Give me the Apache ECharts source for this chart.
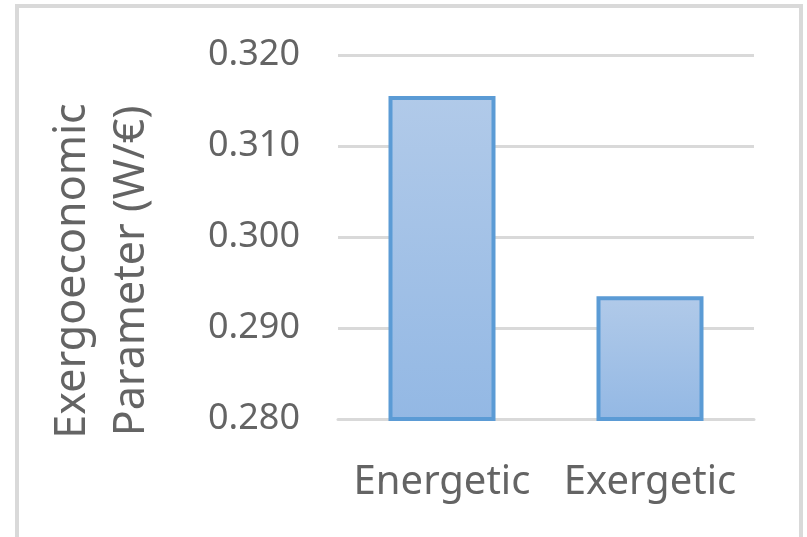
<!DOCTYPE html>
<html>
<head>
<meta charset="utf-8">
<script src="https://cdn.jsdelivr.net/npm/echarts@6/dist/echarts.min.js"></script>
<style>
  html, body { margin: 0; padding: 0; background: #ffffff; }
  #chart { width: 807px; height: 537px; }
</style>
</head>
<body>
<div id="chart"></div>
<script>
// Exergoeconomic parameter by optimisation criterion
const categories = ['Energetic', 'Exergetic'];
const paramValues = [0.3155, 0.2935];
const yTicks = [0.280, 0.290, 0.300, 0.310, 0.320];

const textColor = '#646464';
const fontFamily = '"Noto Sans", "Open Sans", sans-serif';

const chart = echarts.init(document.getElementById('chart'), null, { renderer: 'canvas' });

chart.setOption({
  backgroundColor: '#ffffff',
  animation: false,
  grid: { left: 338, right: 53, top: 55, bottom: 118 },
  xAxis: {
    type: 'category',
    data: categories,
    axisLine: { show: true, lineStyle: { color: '#d9d9d9', width: 3 } },
    axisTick: { show: false },
    axisLabel: {
      interval: 0, hideOverlap: false,
      color: textColor, fontSize: 40, fontFamily: fontFamily, margin: 44
    }
  },
  yAxis: {
    type: 'value',
    min: yTicks[0],
    max: yTicks[yTicks.length - 1],
    interval: 0.01,
    axisLine: { show: false },
    axisTick: { show: false },
    splitLine: { show: true, lineStyle: { color: '#d9d9d9', width: 3 } },
    axisLabel: {
      color: textColor, fontSize: 36, fontFamily: fontFamily, margin: 38,
      formatter: v => v.toFixed(3)
    }
  },
  graphic: [
    {
      type: 'rect',
      shape: { x: 17, y: 6, width: 784, height: 560 },
      style: { fill: 'none', stroke: '#d9d9d9', lineWidth: 4 },
      silent: true
    },
    {
      type: 'text',
      x: 102,
      y: 271,
      rotation: Math.PI / 2,
      style: {
        text: 'Exergoeconomic\nParameter (W/€)',
        fill: textColor,
        font: '43px "Noto Sans", "Open Sans", sans-serif',
        lineHeight: 59,
        align: 'center',
        verticalAlign: 'middle'
      }
    }
  ],
  series: [{
    type: 'bar',
    data: paramValues,
    barWidth: 107,
    itemStyle: {
      color: new echarts.graphic.LinearGradient(0, 0, 0, 1, [
        { offset: 0, color: '#b1cae9' },
        { offset: 1, color: '#93b8e4' }
      ]),
      borderColor: '#5b9bd5',
      borderWidth: 4
    }
  }]
});
</script>
</body>
</html>
